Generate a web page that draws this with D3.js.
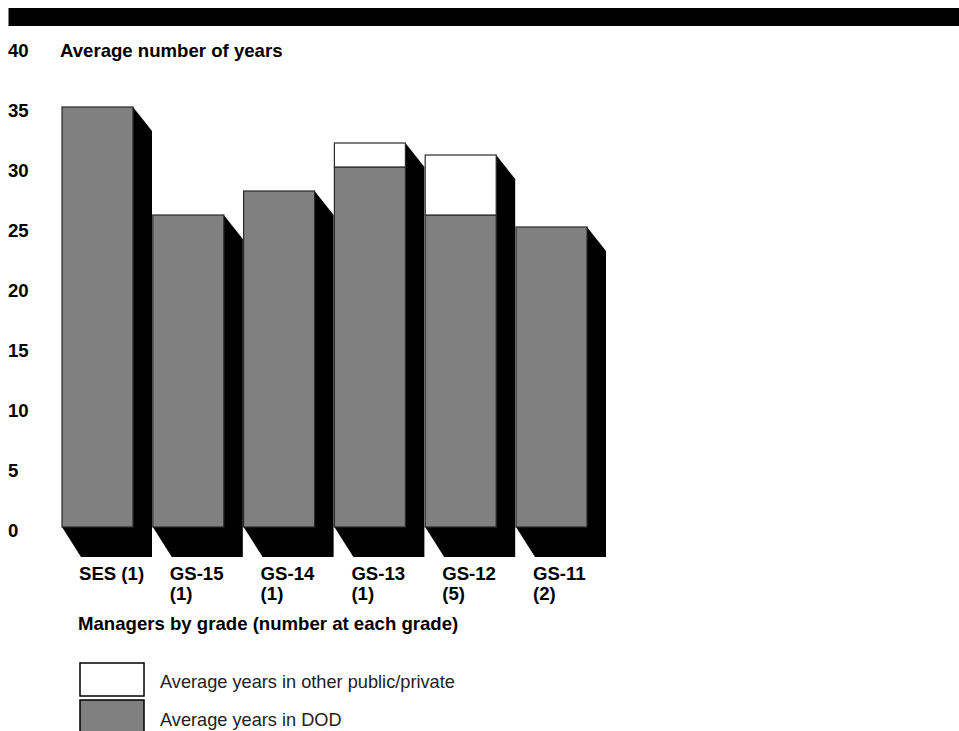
<!DOCTYPE html>
<html>
<head>
<meta charset="utf-8">
<script src="https://cdn.jsdelivr.net/npm/d3@7"></script>
<style>
  html, body { margin: 0; padding: 0; background: #fff; }
  svg { display: block; }
  text { font-family: "Liberation Sans", Arial, Helvetica, sans-serif; }
</style>
</head>
<body>
<svg id="chart" width="959" height="731"></svg>
<script>
// ---- data ----
const categories = ["SES (1)", "GS-15 (1)", "GS-14 (1)", "GS-13 (1)", "GS-12 (5)", "GS-11 (2)"];
const labelLines = [["SES (1)"], ["GS-15", "(1)"], ["GS-14", "(1)"], ["GS-13", "(1)"], ["GS-12", "(5)"], ["GS-11", "(2)"]];
const yearsDOD = [35, 26, 28, 30, 26, 25];
const yearsOther = [0, 0, 0, 2, 5, 0];
const yTicks = [0, 5, 10, 15, 20, 25, 30, 35, 40];
const yTitle = "Average number of years";
const xTitle = "Managers by grade (number at each grade)";
const legendLabels = ["Average years in other public/private", "Average years in DOD"];

// ---- layout ----
const svg = d3.select("#chart");
const x = d3.scaleBand().domain(categories).range([62, 587]).paddingInner(0.218).paddingOuter(0);
const y = d3.scaleLinear().domain([0, 40]).range([527, 47]);
const dx = 19, dyTop = 24, dyBot = 30;
const GRAY = "#808080";
const FS = 18.6;

// top black band
svg.append("rect").attr("x", 8.5).attr("y", 8).attr("width", 951).attr("height", 18).attr("fill", "#000");

// y tick labels
svg.append("g").selectAll("text").data(yTicks).join("text")
  .attr("x", 8).attr("y", d => y(d) + 9.5)
  .attr("font-size", FS).attr("font-weight", "bold").attr("fill", "#000")
  .text(d => d);

// y title
svg.append("text").attr("x", 60).attr("y", y(40) + 9.5)
  .attr("font-size", FS).attr("font-weight", "bold").text(yTitle);

const rows = categories.map((c, i) => ({ c, dod: yearsDOD[i], other: yearsOther[i] }));

// shadows
svg.append("g").selectAll("path").data(rows).join("path")
  .attr("fill", "#000")
  .attr("d", d => {
    const L = x(d.c), R = L + x.bandwidth(), B = y(0), T = y(d.dod + d.other);
    return `M${L},${B}L${L + dx},${B + dyBot}L${R + dx},${B + dyBot}L${R + dx},${T + dyTop}L${R},${T}Z`;
  });

// DOD bars
svg.append("g").selectAll("rect").data(rows).join("rect")
  .attr("x", d => x(d.c)).attr("width", x.bandwidth())
  .attr("y", d => y(d.dod)).attr("height", d => y(0) - y(d.dod))
  .attr("fill", GRAY).attr("stroke", "#2a2a2a").attr("stroke-width", 1.2);

// other bars
svg.append("g").selectAll("rect").data(rows.filter(d => d.other > 0)).join("rect")
  .attr("x", d => x(d.c)).attr("width", x.bandwidth())
  .attr("y", d => y(d.dod + d.other)).attr("height", d => y(d.dod) - y(d.dod + d.other))
  .attr("fill", "#fff").attr("stroke", "#2a2a2a").attr("stroke-width", 1.2);

// x labels
const xl = svg.append("g");
categories.forEach((c, i) => {
  labelLines[i].forEach((t, j) => {
    xl.append("text").attr("x", x(c) + 17).attr("y", 580 + j * 19.5)
      .attr("font-size", FS).attr("font-weight", "bold").text(t);
  });
});

// x title
svg.append("text").attr("x", 78).attr("y", 630)
  .attr("font-size", FS).attr("font-weight", "bold").text(xTitle);

// legend
const legend = [{ label: legendLabels[0], fill: "#fff", y: 663, h: 33, ty: 688 },
                { label: legendLabels[1], fill: GRAY, y: 700, h: 36, ty: 726 }];
const lg = svg.append("g");
lg.selectAll("rect").data(legend).join("rect")
  .attr("x", 80).attr("y", d => d.y).attr("width", 64).attr("height", d => d.h)
  .attr("fill", d => d.fill).attr("stroke", "#000").attr("stroke-width", 1.5);
lg.selectAll("text").data(legend).join("text")
  .attr("x", 160).attr("y", d => d.ty).attr("font-size", 18.2).attr("fill", "#222")
  .text(d => d.label);
</script>
</body>
</html>
